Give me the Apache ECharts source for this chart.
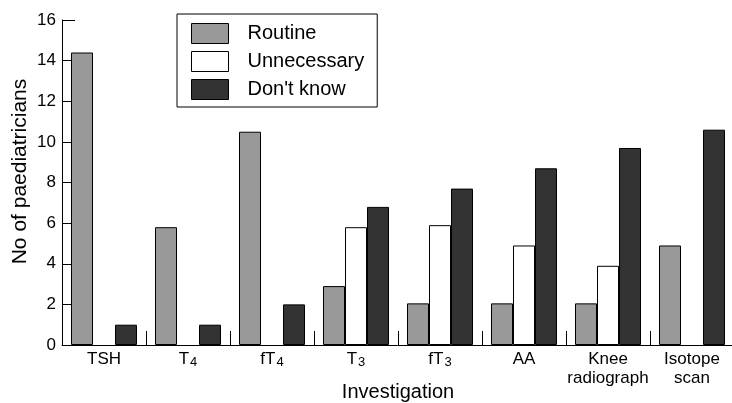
<!DOCTYPE html>
<html>
<head>
<meta charset="utf-8">
<script src="https://cdn.jsdelivr.net/npm/echarts@6/dist/echarts.min.js"></script>
<style>
   html, body { margin: 0; padding: 0; background: #fff; }
   #chart { width: 732px; height: 403px; }
</style>
</head>
<body>
<div id="chart"></div>
<script>
const investigations = ['TSH', 'T4', 'fT4', 'T3', 'fT3', 'AA', 'Knee\nradiograph', 'Isotope\nscan'];
const routine = [14.4, 5.8, 10.5, 2.9, 2.05, 2.05, 2.05, 4.9];
const unnecessary = [null, null, null, 5.8, 5.9, 4.9, 3.9, null];
const dontKnow = [1.0, 1.0, 2.0, 6.8, 7.7, 8.7, 9.7, 10.6];
const yTicks = [0, 16, 2];

const fontMain = '"Liberation Sans", Arial, sans-serif';

const barStyle = (color) => {
   return {
      color: color,
      borderColor: '#000',
      borderWidth: 1,
   };
}

const chart = echarts.init(document.getElementById('chart'));
let option = {
   animation: false,
   grid: {
      left: 62,
      top: 20,
      width: 672,
      bottom: 58,
      outerBoundsMode: 'none',
   },
   legend: {
      orient: 'vertical',
      left: 177,
      top: 14,
      padding: [9, 13, 7, 14],
      itemWidth: 37,
      itemHeight: 20,
      itemGap: 7,
      borderColor: '#000',
      borderWidth: 1,
      icon: 'rect',
      itemStyle: {
         borderColor: '#000',
         borderWidth: 1,
      },
      textStyle: {
         fontFamily: fontMain,
         fontSize: 20,
         lineHeight: 20,
         color: '#000',
         padding: [0, 0, 0, 14],
      },
      data: ['Routine', 'Unnecessary', "Don't know"],
   },
   xAxis: {
      type: 'category',
      data: investigations,
      name: 'Investigation',
      nameLocation: 'middle',
      nameGap: 37,
      nameMoveOverlap: false,
      nameTextStyle: {
         fontFamily: fontMain,
         fontSize: 20,
         color: '#000',
         verticalAlign: 'top',
      },
      axisLine: { lineStyle: { color: '#000', width: 1 } },
      axisTick: {
         show: true,
         inside: true,
         length: 14,
         interval: 0,
         lineStyle: { color: '#000', width: 1 },
      },
      axisLabel: {
         interval: 0,
         margin: 5,
         fontFamily: fontMain,
         fontSize: 17,
         lineHeight: 19,
         color: '#000',
         formatter: function (value) {
            let m = value.match(/^([A-Za-z]+)(\d)$/);
            if (m) {
               return '{m|' + m[1] + '}{s|' + m[2] + '}';
            }
            return value;
         },
         rich: {
            m: { fontFamily: fontMain, fontSize: 17, color: '#000', lineHeight: 19 },
            s: { fontFamily: fontMain, fontSize: 13, color: '#000', verticalAlign: 'bottom', padding: [10, 0, 0, 1] },
         },
      },
   },
   yAxis: {
      type: 'value',
      min: yTicks[0],
      max: yTicks[1],
      interval: yTicks[2],
      name: 'No of paediatricians',
      nameLocation: 'middle',
      nameGap: 31,
      nameMoveOverlap: false,
      nameTextStyle: {
         fontFamily: fontMain,
         fontSize: 21,
         color: '#000',
         padding: [0, 0, 0, 22],
      },
      axisLine: { show: true, lineStyle: { color: '#000', width: 1 } },
      axisTick: {
         show: true,
         inside: true,
         length: 13,
         lineStyle: { color: '#000' },
      },
      splitLine: { show: false },
      axisLabel: {
         margin: 6,
         fontFamily: fontMain,
         fontSize: 17,
         color: '#000',
      },
   },
   series: [
      {
         name: 'Routine',
         type: 'bar',
         barWidth: 22,
         barGap: '0%',
         itemStyle: barStyle('#999999'),
         data: routine,
      },
      {
         name: 'Unnecessary',
         type: 'bar',
         barWidth: 22,
         barGap: '0%',
         itemStyle: barStyle('#ffffff'),
         data: unnecessary,
      },
      {
         name: "Don't know",
         type: 'bar',
         barWidth: 22,
         barGap: '0%',
         itemStyle: barStyle('#333333'),
         data: dontKnow,
      },
   ],
};
chart.setOption(option);
</script>
</body>
</html>
